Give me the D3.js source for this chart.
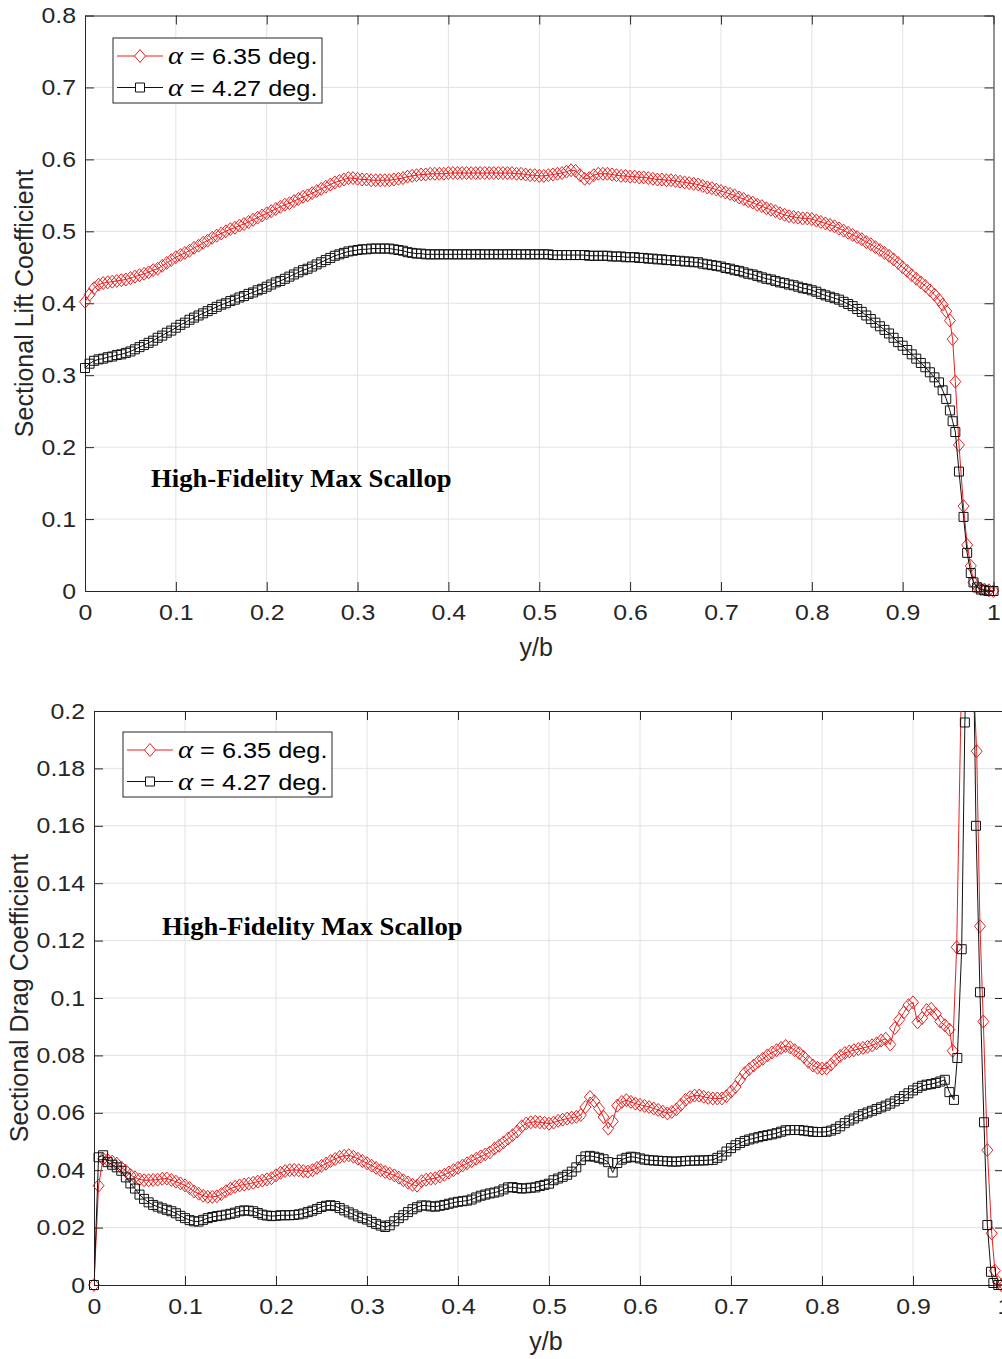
<!DOCTYPE html>
<html>
<head>
<meta charset="utf-8">
<script src="https://cdn.jsdelivr.net/npm/d3@7"></script>
<style>
  body { margin: 0; background: #fff; }
  svg { display: block; }
</style>
</head>
<body>
<div id="grafico"></div>
<script>
// x stations: uniform part 0 .. 0.94 (step 0.005), tip stations listed per series
const stations = d3.range(189).map(i => i * 0.005)

const xTicks = [0, 0.1, 0.2, 0.3, 0.4, 0.5, 0.6, 0.7, 0.8, 0.9, 1]
const liftTicks = [0, 0.1, 0.2, 0.3, 0.4, 0.5, 0.6, 0.7, 0.8]
const dragTicks = [0, 0.02, 0.04, 0.06, 0.08, 0.1, 0.12, 0.14, 0.16, 0.18, 0.2]
const seriesNames = ["6.35", "4.27"]

// sectional lift, alpha = 6.35
const liftRed = [
  0.402, 0.412, 0.421, 0.426, 0.428, 0.429, 0.430, 0.431, 0.432, 0.433,
  0.435, 0.437, 0.439, 0.441, 0.443, 0.446, 0.448, 0.452, 0.456, 0.460,
  0.464, 0.467, 0.470, 0.473, 0.477, 0.480, 0.484, 0.487, 0.491, 0.494,
  0.497, 0.500, 0.503, 0.505, 0.508, 0.510, 0.513, 0.516, 0.519, 0.522,
  0.525, 0.528, 0.531, 0.534, 0.537, 0.539, 0.542, 0.545, 0.548, 0.550,
  0.553, 0.556, 0.559, 0.562, 0.565, 0.568, 0.570, 0.572, 0.574, 0.574,
  0.573, 0.572, 0.572, 0.571, 0.571, 0.571, 0.571, 0.571, 0.572, 0.573,
  0.574, 0.576, 0.577, 0.578, 0.579, 0.579, 0.580, 0.580, 0.580, 0.580,
  0.581, 0.581, 0.581, 0.581, 0.581, 0.581, 0.581, 0.581, 0.581, 0.581,
  0.581, 0.581, 0.581, 0.581, 0.581, 0.580, 0.580, 0.579, 0.578, 0.578,
  0.577, 0.577, 0.578, 0.579, 0.580, 0.581, 0.583, 0.585, 0.584, 0.578,
  0.573, 0.574, 0.578, 0.580, 0.580, 0.580, 0.579, 0.578, 0.577, 0.577,
  0.576, 0.576, 0.575, 0.575, 0.574, 0.573, 0.572, 0.572, 0.571, 0.571,
  0.570, 0.569, 0.568, 0.567, 0.566, 0.565, 0.563, 0.561, 0.560, 0.558,
  0.556, 0.554, 0.552, 0.550, 0.547, 0.545, 0.542, 0.540, 0.537, 0.535,
  0.532, 0.530, 0.528, 0.525, 0.523, 0.521, 0.520, 0.519, 0.518, 0.518,
  0.517, 0.515, 0.513, 0.511, 0.509, 0.507, 0.504, 0.501, 0.498, 0.495,
  0.492, 0.489, 0.485, 0.482, 0.478, 0.474, 0.470, 0.466, 0.461, 0.456,
  0.450, 0.445, 0.439, 0.434, 0.429, 0.424, 0.418, 0.412, 0.405
]
// sectional lift, alpha = 4.27
const liftBlack = [
  0.310, 0.316, 0.320, 0.322, 0.323, 0.325, 0.326, 0.328, 0.329, 0.331,
  0.333, 0.336, 0.339, 0.342, 0.345, 0.348, 0.352, 0.355, 0.359, 0.362,
  0.366, 0.370, 0.373, 0.377, 0.380, 0.383, 0.386, 0.389, 0.392, 0.395,
  0.398, 0.400, 0.403, 0.405, 0.408, 0.410, 0.413, 0.415, 0.418, 0.420,
  0.423, 0.426, 0.429, 0.431, 0.434, 0.437, 0.440, 0.443, 0.446, 0.448,
  0.451, 0.454, 0.457, 0.460, 0.463, 0.466, 0.468, 0.470, 0.472, 0.473,
  0.474, 0.475, 0.475, 0.476, 0.476, 0.476, 0.476, 0.476, 0.475, 0.474,
  0.473, 0.471, 0.470, 0.469, 0.469, 0.468, 0.468, 0.468, 0.468, 0.468,
  0.468, 0.468, 0.468, 0.468, 0.468, 0.468, 0.468, 0.468, 0.468, 0.468,
  0.468, 0.468, 0.468, 0.468, 0.468, 0.468, 0.468, 0.468, 0.468, 0.468,
  0.468, 0.468, 0.468, 0.467, 0.467, 0.467, 0.467, 0.467, 0.467, 0.467,
  0.467, 0.466, 0.466, 0.466, 0.466, 0.466, 0.465, 0.465, 0.465, 0.464,
  0.464, 0.464, 0.463, 0.463, 0.462, 0.462, 0.461, 0.461, 0.460, 0.460,
  0.459, 0.459, 0.458, 0.458, 0.457, 0.457, 0.455, 0.454, 0.453, 0.452,
  0.451, 0.449, 0.448, 0.446, 0.445, 0.443, 0.441, 0.440, 0.438, 0.436,
  0.434, 0.433, 0.431, 0.429, 0.428, 0.426, 0.425, 0.423, 0.421, 0.420,
  0.418, 0.416, 0.413, 0.411, 0.409, 0.407, 0.405, 0.402, 0.399, 0.396,
  0.392, 0.388, 0.383, 0.378, 0.373, 0.368, 0.363, 0.358, 0.352, 0.346,
  0.341, 0.335, 0.329, 0.323, 0.317, 0.311, 0.304, 0.297, 0.290
]
const liftTipX = [0.944, 0.948, 0.952, 0.955, 0.958, 0.962, 0.967, 0.971, 0.975, 0.978, 0.982, 0.986, 0.990, 0.995, 1.0]
const liftRedTip = [0.398, 0.389, 0.376, 0.350, 0.291, 0.203, 0.118, 0.064, 0.035, 0.012, 0.006, 0.003, 0.002, 0.001, 0.0]
const liftBlackTip = [0.279, 0.267, 0.251, 0.236, 0.221, 0.166, 0.103, 0.053, 0.025, 0.012, 0.005, 0.002, 0.001, 0.0, 0.0]

// sectional drag, alpha = 6.35
const dragRed = [
  0.0000, 0.0346, 0.0440, 0.0435, 0.0430, 0.0423, 0.0410, 0.0398, 0.0383, 0.0375,
  0.0368, 0.0365, 0.0365, 0.0366, 0.0367, 0.0370, 0.0371, 0.0366, 0.0360, 0.0354,
  0.0347, 0.0338, 0.0326, 0.0318, 0.0311, 0.0307, 0.0307, 0.0309, 0.0317, 0.0327,
  0.0336, 0.0342, 0.0347, 0.0350, 0.0353, 0.0356, 0.0360, 0.0364, 0.0368, 0.0372,
  0.0382, 0.0391, 0.0397, 0.0400, 0.0401, 0.0400, 0.0397, 0.0395, 0.0400, 0.0408,
  0.0415, 0.0423, 0.0432, 0.0439, 0.0446, 0.0450, 0.0452, 0.0447, 0.0440, 0.0432,
  0.0424, 0.0416, 0.0408, 0.0400, 0.0394, 0.0388, 0.0382, 0.0374, 0.0365, 0.0357,
  0.0349, 0.0346, 0.0362, 0.0367, 0.0370, 0.0372, 0.0378, 0.0384, 0.0392, 0.0400,
  0.0408, 0.0416, 0.0424, 0.0432, 0.0440, 0.0448, 0.0455, 0.0462, 0.0475, 0.0485,
  0.0497, 0.0510, 0.0522, 0.0535, 0.0553, 0.0563, 0.0567, 0.0569, 0.0567, 0.0565,
  0.0562, 0.0566, 0.0572, 0.0576, 0.0580, 0.0583, 0.0586, 0.0592, 0.0620, 0.0655,
  0.0640, 0.0615, 0.0585, 0.0545, 0.0570, 0.0625, 0.0638, 0.0644, 0.0638, 0.0632,
  0.0628, 0.0624, 0.0620, 0.0615, 0.0610, 0.0604, 0.0598, 0.0603, 0.0612, 0.0628,
  0.0645, 0.0655, 0.0660, 0.0660, 0.0656, 0.0652, 0.0650, 0.0650, 0.0650, 0.0658,
  0.0674, 0.0690, 0.0715, 0.0738, 0.0752, 0.0765, 0.0778, 0.0788, 0.0800, 0.0810,
  0.0818, 0.0826, 0.0833, 0.0828, 0.0818, 0.0808, 0.0795, 0.0778, 0.0765, 0.0757,
  0.0754, 0.0755, 0.0768, 0.0785, 0.0798, 0.0808, 0.0814, 0.0818, 0.0822, 0.0826,
  0.0830, 0.0835, 0.0842, 0.0852, 0.0858, 0.0838, 0.0895, 0.0925, 0.0950, 0.0975,
  0.0985, 0.0915, 0.0930, 0.0958, 0.0962, 0.0945, 0.0918, 0.0905, 0.0890
]
const dragRedTipX = [0.9436, 0.948, 0.957, 0.970, 0.9736, 0.9773, 0.9817, 0.9865, 0.990, 0.9937, 0.997, 1.0]
const dragRedTip = [0.0816, 0.1177, 0.277, 0.186, 0.125, 0.0918, 0.047, 0.018, 0.005, 0.001, 0.0, 0.0]

// sectional drag, alpha = 4.27
const dragBlack = [
  0.0000, 0.0445, 0.0452, 0.0428, 0.0419, 0.0410, 0.0398, 0.0375, 0.0354, 0.0336,
  0.0315, 0.0300, 0.0288, 0.0279, 0.0273, 0.0267, 0.0262, 0.0257, 0.0250, 0.0241,
  0.0233, 0.0226, 0.0222, 0.0221, 0.0227, 0.0233, 0.0237, 0.0240, 0.0242, 0.0245,
  0.0248, 0.0252, 0.0257, 0.0260, 0.0259, 0.0257, 0.0251, 0.0245, 0.0242, 0.0240,
  0.0241, 0.0243, 0.0243, 0.0243, 0.0244, 0.0246, 0.0249, 0.0254, 0.0259, 0.0265,
  0.0272, 0.0276, 0.0278, 0.0275, 0.0268, 0.0260, 0.0253, 0.0246, 0.0239, 0.0233,
  0.0228, 0.0220, 0.0213, 0.0207, 0.0202, 0.0208, 0.0222, 0.0233, 0.0243, 0.0254,
  0.0264, 0.0271, 0.0277, 0.0277, 0.0274, 0.0273, 0.0276, 0.0279, 0.0283, 0.0287,
  0.0290, 0.0292, 0.0294, 0.0298, 0.0305, 0.0311, 0.0315, 0.0319, 0.0322, 0.0326,
  0.0333, 0.0340, 0.0341, 0.0338, 0.0336, 0.0337, 0.0339, 0.0340, 0.0345, 0.0349,
  0.0353, 0.0365, 0.0371, 0.0377, 0.0384, 0.0395, 0.0410, 0.0435, 0.0448, 0.0450,
  0.0447, 0.0443, 0.0438, 0.0428, 0.0392, 0.0425, 0.0437, 0.0443, 0.0447, 0.0445,
  0.0441, 0.0437, 0.0435, 0.0434, 0.0433, 0.0432, 0.0431, 0.0430, 0.0430, 0.0431,
  0.0432, 0.0433, 0.0433, 0.0434, 0.0434, 0.0435, 0.0436, 0.0443, 0.0451, 0.0465,
  0.0477, 0.0487, 0.0495, 0.0502, 0.0507, 0.0511, 0.0515, 0.0519, 0.0522, 0.0525,
  0.0529, 0.0534, 0.0539, 0.0540, 0.0540, 0.0540, 0.0538, 0.0536, 0.0534, 0.0533,
  0.0533, 0.0534, 0.0538, 0.0544, 0.0553, 0.0564, 0.0573, 0.0580, 0.0588, 0.0595,
  0.0601, 0.0607, 0.0613, 0.0619, 0.0625, 0.0632, 0.0640, 0.0648, 0.0658, 0.0668,
  0.0678, 0.0687, 0.0694, 0.0698, 0.0700, 0.0704, 0.0709, 0.0715, 0.0672
]
const dragBlackTipX = [0.945, 0.9487, 0.9535, 0.957, 0.9634, 0.9692, 0.9736, 0.978, 0.9817, 0.9857, 0.9883, 0.9937, 0.997]
const dragBlackTip = [0.0645, 0.0791, 0.117, 0.196, 0.287, 0.160, 0.102, 0.0567, 0.0209, 0.0046, 0.0007, 0.0, 0.0]

const RED = "#e82020", BLACK = "#111111", AXIS = "#262626", GRID = "#e2e2e2"
const FONT = "'Liberation Sans', Arial, Helvetica, sans-serif"

const svg = d3.select("#grafico")
  .append("svg")
  .attr("width", 1002)
  .attr("height", 1359)
  .style("font-family", FONT)

const diamond = "M0,-6.5L5.5,0L0,6.5L-5.5,0Z"
const square = "M-4.5,-4.5H4.5V4.5H-4.5Z"

// join the uniform part and the tip of a series into points
const toPoints = (vals, tipX, tipY) =>
  vals.map((v, i) => ({x: stations[i], y: v}))
    .concat(tipX.map((t, i) => ({x: t, y: tipY[i]})))

// the reference text is drawn a little wider than Arial
function widen(sel, k) {
  sel.each(function() {
    const len = this.getComputedTextLength()
    d3.select(this).attr("textLength", len * k).attr("lengthAdjust", "spacingAndGlyphs")
  })
}

function drawPanel(p, id) {
  const x = d3.scaleLinear().domain([0, 1]).range([p.left, p.right])
  const y = d3.scaleLinear().domain([0, p.ymax]).range([p.bottom, p.top])
  const g = svg.append("g")

  // grid
  g.append("g").selectAll("line").data(xTicks.slice(1, -1)).join("line")
    .attr("x1", d => x(d)).attr("x2", d => x(d))
    .attr("y1", p.top).attr("y2", p.bottom)
    .attr("stroke", GRID)
  g.append("g").selectAll("line").data(p.yTicks.slice(1, -1)).join("line")
    .attr("y1", d => y(d)).attr("y2", d => y(d))
    .attr("x1", p.left).attr("x2", p.right)
    .attr("stroke", GRID)

  // axes (ticks inside, box all round)
  const fmt = d => String(d)
  g.append("g").attr("transform", `translate(0,${p.bottom})`)
    .call(d3.axisBottom(x).tickValues(xTicks).tickSize(-9).tickSizeOuter(0).tickPadding(13).tickFormat(fmt))
  g.append("g").attr("transform", `translate(0,${p.top})`)
    .call(d3.axisTop(x).tickValues(xTicks).tickSize(-9).tickSizeOuter(0).tickFormat(""))
  g.append("g").attr("transform", `translate(${p.left},0)`)
    .call(d3.axisLeft(y).tickValues(p.yTicks).tickSize(-9).tickSizeOuter(0).tickPadding(9).tickFormat(fmt))
  g.append("g").attr("transform", `translate(${p.right},0)`)
    .call(d3.axisRight(y).tickValues(p.yTicks).tickSize(-9).tickSizeOuter(0).tickFormat(""))
  g.selectAll(".domain, .tick line").attr("stroke", AXIS)
  g.selectAll(".tick text").attr("fill", AXIS).style("font-size", "22px").style("font-family", FONT)
    .call(widen, 1.13)

  // axis titles
  g.append("text")
    .attr("x", (p.left + p.right) / 2 - 3).attr("y", p.bottom + 65)
    .attr("text-anchor", "middle").attr("fill", AXIS)
    .style("font-size", "25px")
    .text("y/b")
  g.append("text")
    .attr("transform", `translate(${p.ylabX},${(p.top + p.bottom) / 2}) rotate(-90)`)
    .attr("text-anchor", "middle").attr("fill", AXIS)
    .style("font-size", "25px")
    .text(p.ylabel)

  // series
  const clipId = "clip" + id
  g.append("clipPath").attr("id", clipId).append("rect")
    .attr("x", p.left).attr("y", p.top)
    .attr("width", p.right - p.left).attr("height", p.bottom - p.top)
  const line = d3.line().x(d => x(d.x)).y(d => y(d.y))
  p.series.forEach(s => {
    g.append("path").datum(s.points)
      .attr("clip-path", `url(#${clipId})`)
      .attr("fill", "none").attr("stroke", s.color).attr("stroke-width", 1)
      .attr("d", line)
    g.append("g").selectAll("path")
      .data(s.points.filter(d => d.y <= p.ymax))
      .join("path")
      .attr("transform", d => `translate(${x(d.x)},${y(d.y)})`)
      .attr("d", s.marker)
      .attr("fill", "none").attr("stroke", s.color).attr("stroke-width", 1)
  })

  // annotation
  g.append("text")
    .attr("x", p.noteX).attr("y", p.noteY)
    .style("font-family", "'Liberation Serif', 'Times New Roman', serif")
    .style("font-weight", "bold").style("font-size", "26px")
    .attr("fill", "#000")
    .text("High-Fidelity Max Scallop")
    .call(widen, 1.025)

  // legend
  const lg = g.append("g").attr("transform", `translate(${p.legX},${p.legY})`)
  lg.append("rect").attr("width", 209).attr("height", 65)
    .attr("fill", "#fff").attr("stroke", AXIS)
  p.series.forEach((s, i) => {
    const cy = 18 + i * 31.5
    lg.append("line").attr("x1", 4).attr("x2", 50).attr("y1", cy).attr("y2", cy)
      .attr("stroke", s.color).attr("stroke-width", 1)
    lg.append("path").attr("transform", `translate(27,${cy})`).attr("d", s.marker)
      .attr("fill", "#fff").attr("stroke", s.color).attr("stroke-width", 1)
    const t = lg.append("text").attr("x", 55).attr("y", cy + 8)
      .attr("fill", "#000").style("font-size", "22px")
    t.append("tspan").style("font-family", "'Liberation Serif', serif")
      .style("font-style", "italic").style("font-size", "25px").text("α")
    t.append("tspan").text(` = ${seriesNames[i]} deg.`)
    t.call(widen, 1.15)
  })
}

drawPanel({
  left: 85, right: 993.5, top: 15.5, bottom: 591, ymax: 0.8,
  yTicks: liftTicks, ylabel: "Sectional Lift Coefficient", ylabX: 33,
  noteX: 151, noteY: 487, legX: 113, legY: 38,
  series: [
    {color: RED, marker: diamond, points: toPoints(liftRed, liftTipX, liftRedTip)},
    {color: BLACK, marker: square, points: toPoints(liftBlack, liftTipX, liftBlackTip)}
  ]
}, 1)

drawPanel({
  left: 94, right: 1004, top: 711, bottom: 1285, ymax: 0.2,
  yTicks: dragTicks, ylabel: "Sectional Drag Coefficient", ylabX: 28,
  noteX: 162, noteY: 935, legX: 123, legY: 732,
  series: [
    {color: RED, marker: diamond, points: toPoints(dragRed, dragRedTipX, dragRedTip)},
    {color: BLACK, marker: square, points: toPoints(dragBlack, dragBlackTipX, dragBlackTip)}
  ]
}, 2)
</script>
</body>
</html>
